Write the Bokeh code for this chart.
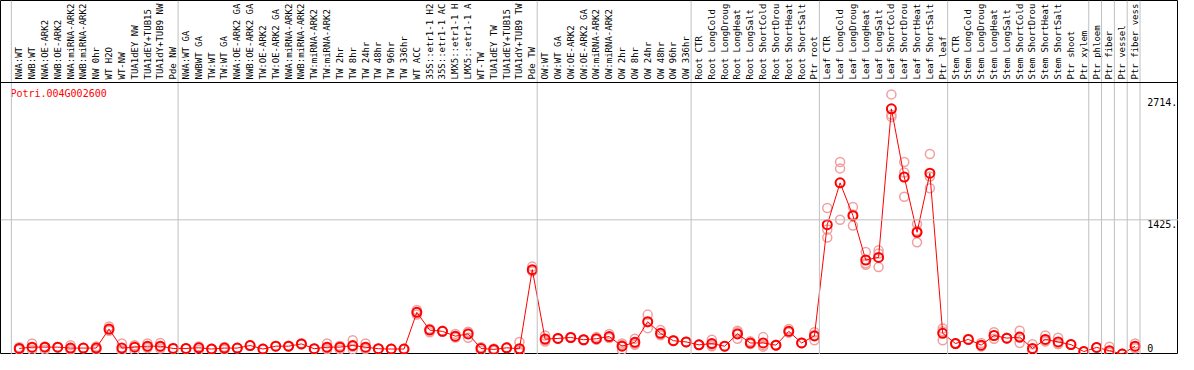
import numpy as np
from bokeh.plotting import figure
from bokeh.models import ColumnDataSource, Range1d, Span
from bokeh.embed import file_html
from bokeh.resources import INLINE
from bokeh.core.properties import value

# ---------------- data ----------------
gene = "Potri.004G002600"

categories = [
    "NWA:WT", "NWB:WT", "NWA:OE-ARK2", "NWB:OE-ARK2", "NWA:miRNA-ARK2", "NWB:miRNA-ARK2",
    "NW 0hr", "WT H2O", "WT-NW", "TUA1dEY NW", "TUA1dEY+TUB15", "TUA1dY+TUB9 NW", "Pde NW",
    "NWA:WT GA", "NWBWT GA", "TW:WT", "TW:WT GA", "NWA:OE-ARK2 GA", "NWB:OE-ARK2 GA",
    "TW:OE-ARK2", "TW:OE-ARK2 GA", "NWA:miRNA-ARK2", "NWB:miRNA-ARK2", "TW:miRNA-ARK2",
    "TW:miRNA-ARK2", "TW 2hr", "TW 8hr", "TW 24hr", "TW 48hr", "TW 96hr", "TW 336hr",
    "WT ACC", "35S::etr1-1 H2", "35S::etr1-1 AC", "LMX5::etr1-1 H", "LMX5::etr1-1 A",
    "WT-TW", "TUA1dEY TW", "TUA1dEY+TUB15", "TUA1dY+TUB9 TW", "Pde TW",
    "OW:WT", "OW:WT GA", "OW:OE-ARK2", "OW:OE-ARK2 GA", "OW:miRNA-ARK2", "OW:miRNA-ARK2",
    "OW 2hr", "OW 8hr", "OW 24hr", "OW 48hr", "OW 96hr", "OW 336hr",
    "Root CTR", "Root LongCold", "Root LongDroug", "Root LongHeat", "Root LongSalt",
    "Root ShortCold", "Root ShortDrou", "Root ShortHeat", "Root ShortSalt", "Ptr root",
    "Leaf CTR", "Leaf LongCold", "Leaf LongDroug", "Leaf LongHeat", "Leaf LongSalt",
    "Leaf ShortCold", "Leaf ShortDrou", "Leaf ShortHeat", "Leaf ShortSalt", "Ptr leaf",
    "Stem CTR", "Stem LongCold", "Stem LongDroug", "Stem LongHeat", "Stem LongSalt",
    "Stem ShortCold", "Stem ShortDrou", "Stem ShortHeat", "Stem ShortSalt", "Ptr shoot",
    "Ptr xylem", "Ptr phloem", "Ptr fiber", "Ptr vessel", "Ptr fiber vess",
]

group_sizes = [13, 28, 12, 10, 10, 11, 1, 1, 1, 1]

means = [
    64, 78, 78, 78, 68, 68, 68, 269, 68, 78, 88, 88, 64,
    64, 71, 58, 68, 68, 95, 58, 88, 88, 112, 61, 78, 78, 95, 78, 61, 58, 58,
    446, 258, 245, 194, 218, 64, 54, 71, 61, 898,
    163, 170, 180, 156, 167, 190, 88, 129, 347, 224, 146, 133,
    102, 116, 88, 218, 122, 122, 99, 245, 122, 197,
    1374, 1816, 1469, 1000, 1027, 2599, 1878, 1293, 1918, 224,
    116, 160, 99, 201, 173, 184, 64, 160, 133, 105, 31,
    75, 41, 5, 88,
]

rep1 = [
    50, 116, 80, 80, 99, 70, 70, 296, 116, 95, 116, 122, 64,
    66, 48, 58, 50, 66, 92, 56, 90, 84, 108, 60, 116, 54, 150, 116, 60, 58, 56,
    470, 235, 245, 218, 235, 41, 41, 70, 133, 930,
    201, 165, 176, 160, 184, 218, 116, 167, 422, 258, 150, 130,
    104, 156, 86, 235, 139, 184, 96, 269, 120, 235,
    1551, 2037, 1561, 1085, 1102, 2752, 2037, 1381, 2122, 276,
    112, 165, 122, 235, 170, 252, 109, 201, 177, 102, 30,
    72, 82, 8, 116,
]

rep2 = [
    66, 70, 85, 74, 60, 66, 50, 252, 48, 98, 80, 78, 60,
    62, 80, 55, 74, 70, 98, 60, 86, 92, 118, 62, 64, 90, 54, 60, 62, 56, 60,
    446, 270, 240, 184, 177, 78, 60, 72, 31, 880,
    150, 175, 184, 150, 160, 177, 48, 116, 279, 210, 142, 136,
    100, 88, 90, 167, 112, 99, 102, 232, 124, 150,
    1323, 1969, 1364, 966, 1068, 2538, 1925, 1187, 1884, 150,
    120, 155, 88, 167, 176, 122, 44, 140, 112, 108, 32,
    78, 20, 3, 65,
]

rep3 = [
    76, 48, 50, 78, 44, 68, 84, 260, 40, 41, 68, 64, 68,
    64, 85, 61, 80, 68, 95, 58, 88, 88, 110, 61, 54, 90, 81, 58, 61, 60, 58,
    422, 269, 250, 180, 242, 73, 61, 71, 19, 884,
    138, 170, 180, 158, 157, 175, 100, 104, 340, 204, 146, 133,
    102, 104, 88, 252, 115, 83, 99, 234, 122, 206,
    1238, 1425, 1482, 949, 925, 2514, 1670, 1310, 1759, 246,
    116, 160, 87, 201, 173, 178, 39, 139, 110, 105, 31,
    75, 21, 4, 83,
]

tick_values = [0, 1425, 2714]
tick_labels = ["0", "1425.", "2714."]

# ---------------- layout ----------------
W, H = 1178, 354
sx = W / 1194.0
first_px, step_px = 19 * sx, 13 * sx  # pixel position of first category, spacing
header_px = 82                        # header line (pixels from top)
plot_px = H - header_px               # height of data area
value_at_header = 2878                # data value at header line

x_range = Range1d(-first_px / step_px, (W - first_px) / step_px)
y_range = Range1d(0, value_at_header * H / plot_px)

p = figure(width=W, height=H, x_range=x_range, y_range=y_range,
           output_backend="svg", toolbar_location=None, min_border=0,
           x_axis_type=None, y_axis_type=None,
           outline_line_color="black", outline_line_width=1,
           background_fill_color="white", border_fill_color="white")
p.extra_y_ranges = {"hdr": Range1d(H, 0)}

idx = np.arange(len(categories))
mono = value("DejaVu Sans Mono")

# group separators (grey vertical lines)
bounds = np.concatenate([[0], np.cumsum(group_sizes)])
for b in bounds:
    p.add_layout(Span(location=b - 1 + 5 / 13, dimension="height",
                      line_color="#c0c0c0", line_width=1))

# horizontal grid line at the middle tick
for t in tick_values[1:-1]:
    p.add_layout(Span(location=t, dimension="width", line_color="#c0c0c0", line_width=1))

# header separator
p.add_layout(Span(location=header_px, dimension="width", y_range_name="hdr",
                  line_color="black", line_width=1))

# category labels (vertical)
p.text(x=idx, y=[header_px - 3] * len(idx), text=categories, angle=np.pi / 2,
       text_align="left", text_baseline="middle", text_font=mono,
       text_font_size="9px", text_color="black", y_range_name="hdr")

# gene title
p.text(x=[-0.69], y=[header_px + 5], text=[gene], text_align="left",
       text_baseline="top", text_font=mono, text_font_size="10px",
       text_color="#ff0000", y_range_name="hdr")

# value labels at right
lab_x = 87.95
p.text(x=[lab_x] * 2, y=tick_values[1:], text=tick_labels[1:], text_align="left",
       text_baseline="top", text_font=mono, text_font_size="10px", text_color="black")
p.text(x=[lab_x], y=tick_values[:1], text=tick_labels[:1], text_align="left",
       text_baseline="bottom", y_offset=-3, text_font=mono, text_font_size="10px",
       text_color="black")

# data
src = ColumnDataSource(dict(x=idx, mean=means, r1=rep1, r2=rep2, r3=rep3))
for r in ("r1", "r2", "r3"):
    p.scatter("x", r, source=src, marker="circle", size=9, fill_color=None,
              line_color="#f0a0a0", line_width=1.5)
p.line("x", "mean", source=src, line_color="#ff0000", line_width=1)
p.scatter("x", "mean", source=src, marker="circle", size=9, fill_color=None,
          line_color="#ff0000", line_width=2)

open("out.html", "w").write(file_html(p, INLINE))
